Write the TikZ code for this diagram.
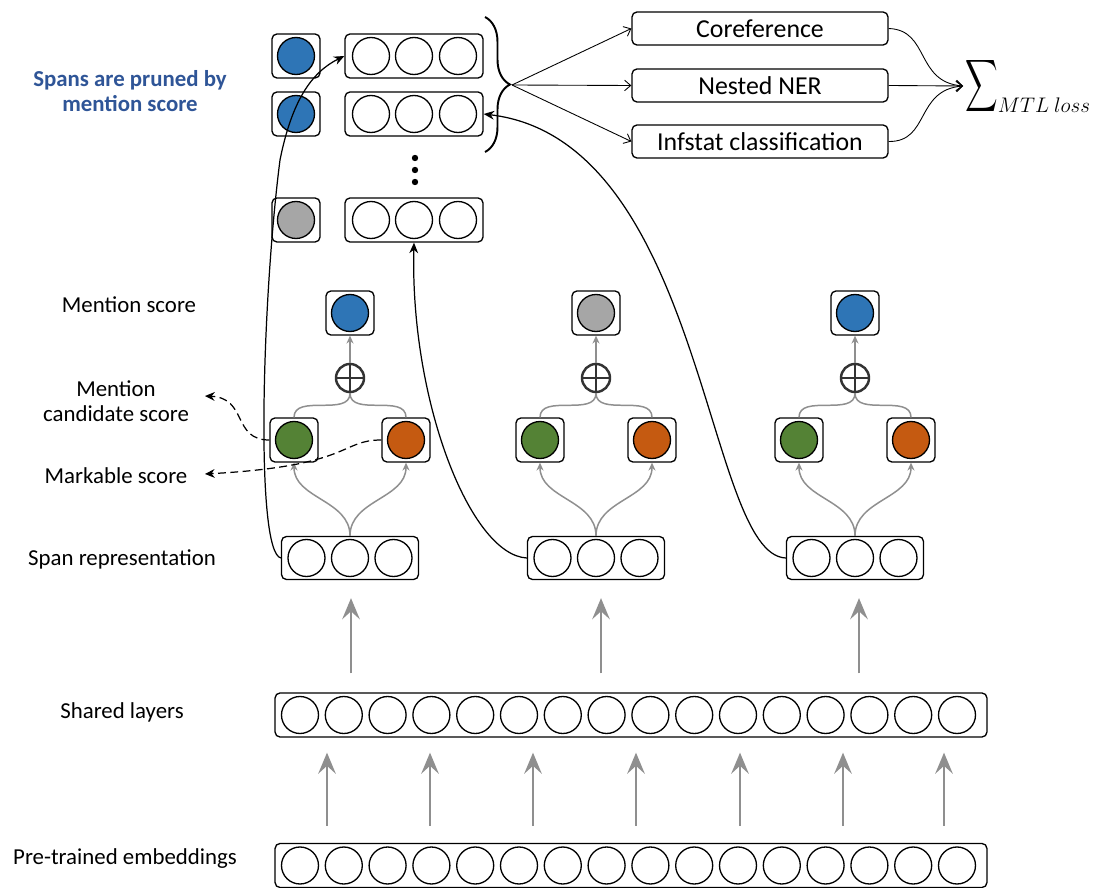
\documentclass[tikz,border=0pt]{standalone}
\usepackage{exscale}
\usepackage{graphicx}
\usepackage{fontspec}
\setmainfont{Carlito}
\usepackage{tikz}
\usetikzlibrary{arrows.meta,decorations.pathreplacing}

\definecolor{scoreblue}{HTML}{2E75B6}
\definecolor{scoregreen}{HTML}{548235}
\definecolor{scoreorange}{HTML}{C55A11}
\definecolor{scoregrey}{HTML}{A6A6A6}
\definecolor{notegrey}{HTML}{8F8F8F}
\definecolor{noteblue}{HTML}{2F5597}

\tikzset{
  neuron/.style={circle,draw,line width=0.75pt,minimum size=0.74cm,inner sep=0pt},
  scorebox/.style={draw,line width=0.75pt,rounded corners=2.8pt,minimum width=0.96cm,minimum height=0.88cm},
  vecbox/.style={draw,line width=0.75pt,rounded corners=2.8pt,minimum width=2.76cm,minimum height=0.88cm},
  layerbox/.style={draw,line width=0.75pt,rounded corners=2.8pt,minimum width=14.24cm,minimum height=0.88cm},
  taskbox/.style={draw,line width=0.75pt,rounded corners=2.8pt,minimum width=5.12cm,minimum height=0.66cm,inner sep=0pt,font=\fontsize{14.7}{17}\selectfont},
  lbl/.style={font=\fontsize{13}{14.2}\selectfont,align=center},
  sumop/.style={circle,draw=black!80,line width=1.4pt,minimum size=0.56cm,inner sep=0pt,
    path picture={\draw[black!80,line width=1.4pt] (path picture bounding box.north) -- (path picture bounding box.south)
      (path picture bounding box.west) -- (path picture bounding box.east);}},
  feed/.style={draw=notegrey,line width=1.4pt,-{Stealth[length=12pt,width=10pt,inset=4.5pt]}},
  link/.style={draw=notegrey,line width=0.85pt},
  linkarrow/.style={link,-{Stealth[length=4.5pt,width=4pt]}},
  jump/.style={draw,line width=0.7pt,-{Stealth[length=6pt,width=5pt]}},
  guide/.style={draw,line width=0.7pt,dash pattern=on 4.5pt off 2.5pt,-{Stealth[length=5.5pt,width=5pt]}},
  fanout/.style={draw,line width=0.5pt,-{Straight Barb[length=3.5pt,width=6pt]}},
}

\begin{document}
\begin{tikzpicture}[x=0.02cm,y=0.02cm]
\useasboundingbox (0,0) rectangle (1099,-888);

% left labels
  \draw (130,-91) node[lbl,font=\bfseries\fontsize{13}{14.2}\selectfont,text=noteblue] (pruned) {Spans are pruned by\\mention score};
  \draw (129,-305) node[lbl] (mentlbl) {Mention score};
  \draw (116,-401) node[lbl] (candlbl) {Mention\\candidate score};
  \draw (116,-476) node[lbl] (marklbl) {Markable score};
  \draw (122,-559) node[lbl] (spanlbl) {Span representation};
  \draw (122,-712) node[lbl] (sharedlbl) {Shared layers};
  \draw (125,-859) node[lbl] (prelbl) {Pre-trained embeddings};

% pruned spans
\foreach \y/\n/\col in {56/1/scoreblue,114/2/scoreblue,220/3/scoregrey}{
  \draw (296,-\y) node[scorebox] (keep\n) {};
  \draw (296,-\y) node[neuron,fill=\col] (keep\n-dot) {};
  \draw (414,-\y) node[vecbox] (top\n) {};
  \foreach \x [count=\k] in {371,414,458}
    \draw (\x,-\y) node[neuron] (top\n-\k) {};
}
  \fill (415,-158) circle[radius=3.2] (415,-170) circle[radius=3.2] (415,-182) circle[radius=3.2];
  \draw[decorate,decoration={brace,amplitude=0.5cm},line width=1.1pt] (485,-17) -- (485,-152);
  \coordinate (fork) at (512,-85);

% tasks
  \draw (760,-28.5) node[taskbox] (coref) {Coreference};
  \draw (760,-85.5) node[taskbox] (ner) {Nested NER};
  \draw (760,-141.5) node[taskbox] (infstat) {Infstat classification};
     \path (fork) edge[fanout] (coref.west) edge[fanout] (ner.west) edge[fanout] (infstat.west);
  \coordinate (merge) at (963,-86);
  \draw[fanout] (coref.east) .. controls (930,-30) and (915,-82) .. (merge);
  \draw[fanout] (ner.east) -- (merge);
  \draw[fanout] (infstat.east) .. controls (930,-142) and (915,-90) .. (merge);
  \draw (965,-95) node[anchor=base west,inner sep=0pt] (loss) {\scalebox{0.62}[1]{\fontsize{22}{26}\selectfont$\displaystyle\sum$}\raisebox{-10.2pt}{\fontsize{12.5}{14}\selectfont$MTL\ loss$}};

% span columns
\foreach \x/\n/\col/\rx in {350/1/scoreblue/351,596/2/scoregrey/601,855/3/scoreblue/859}{
  \draw (\x,-313) node[scorebox] (ment\n) {};
  \draw (\x,-313) node[neuron,fill=\col] (ment\n-dot) {};
  \draw (\x,-378) node[sumop] (plus\n) {};
  \draw (\x-56,-440) node[scorebox] (cand\n) {};
  \draw (\x-56,-440) node[neuron,fill=scoregreen] (cand\n-dot) {};
  \draw (\x+56,-440) node[scorebox] (mark\n) {};
  \draw (\x+56,-440) node[neuron,fill=scoreorange] (mark\n-dot) {};
  \draw (\x,-558) node[vecbox,minimum width=2.74cm,minimum height=0.86cm] (span\n) {};
  \foreach \dx [count=\k] in {-43.5,0,43.5}
    \draw (\x+\dx,-558) node[neuron] (span\n-\k) {};
  \draw[linkarrow] (span\n.north) to[out=90,in=-90] (cand\n.south);
  \draw[linkarrow] (span\n.north) to[out=90,in=-90] (mark\n.south);
  \draw[link] (cand\n.north) to[out=90,in=-90] (plus\n.south);
  \draw[link] (mark\n.north) to[out=90,in=-90] (plus\n.south);
     \path (plus\n) edge[linkarrow] (ment\n);
  \coordinate (rise\n) at (\rx,0);
}

% where the spans go
  \draw[jump] (span1.west) .. controls (255,-552) and (262,-300) .. (280,-160)
    .. controls (292,-100) and (312,-72) .. (top1.west);
  \draw[jump] (span2.west) .. controls (470,-555) and (410,-400) .. (top3.south);
  \draw[jump] (span3.west) .. controls (705,-555) and (705,-140) .. (top2.east);
  \coordinate (candtip) at (205,-396);
  \coordinate (marktip) at (205,-474);
  \draw[guide] (cand1.west) .. controls (232,-440) and (248,-398) .. (candtip);
  \draw[guide] (mark1.west) .. controls (340,-440) and (352,-466) .. (marktip);

% layers
  \draw (631,-715) node[layerbox] (shared) {};
  \draw (631,-865.5) node[layerbox] (pre) {};
\foreach \k in {0,...,15}{
  \draw (300+43.8*\k,-715) node[neuron] (shared-\k) {};
  \draw (300+43.8*\k,-865.5) node[neuron] (pre-\k) {};
}
\foreach \x [count=\i] in {327,430,533,636,740,843,944}{
  \coordinate (up\i) at (\x,0);
     \path (pre.north -| up\i) edge[feed,shorten <=0.34cm,shorten >=0.3cm] (shared.south -| up\i);
}
\foreach \n in {1,2,3}
     \path (shared.north -| rise\n) edge[feed,shorten <=0.38cm,shorten >=0.36cm] (span\n.south -| rise\n);
\end{tikzpicture}
\end{document}
